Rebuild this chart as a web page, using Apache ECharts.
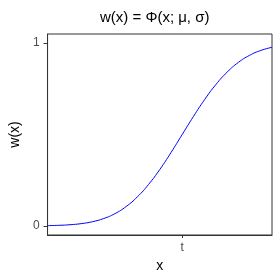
<!DOCTYPE html>
<html>
<head>
<meta charset="utf-8">
<script src="https://cdn.jsdelivr.net/npm/echarts@6/dist/echarts.min.js"></script>
<style>html,body{margin:0;padding:0;background:#fff}#c{width:280px;height:280px}</style>
</head>
<body>
<div id="c"></div>
<script>
// x in units of sigma relative to mu (t = mu)
var xs = [-3, -2.75, -2.5, -2.25, -2, -1.75, -1.5, -1.25, -1, -0.75, -0.5, -0.25, 0, 0.25, 0.5, 0.75, 1, 1.25, 1.5, 1.75, 2];
var ws = [0.0013, 0.0030, 0.0062, 0.0122, 0.0228, 0.0401, 0.0668, 0.1056, 0.1587, 0.2266, 0.3085, 0.4013, 0.5, 0.5987, 0.6915, 0.7734, 0.8413, 0.8944, 0.9332, 0.9599, 0.9772];
var xTickValues = [0];
var xTickLabels = ['t'];
var yTickValues = [0, 1];
var yTickLabels = ['0', '1'];

var pts = xs.map(function (x, i) { return [x, ws[i]]; });
var font = 'Liberation Sans, Arial, sans-serif';
var chart = echarts.init(document.getElementById('c'), null, {renderer: 'canvas'});
chart.setOption({
  animation: false,
  backgroundColor: '#fff',
  title: {
    text: 'w(x) = \u03A6(x; \u03BC, \u03C3)',
    left: 95, top: 5,
    textStyle: {fontFamily: font, fontSize: 15, fontWeight: 'normal', color: '#000'}
  },
  grid: {left: 39, right: 8, top: 34, bottom: 45, show: true, borderColor: '#333', borderWidth: 1, backgroundColor: '#fff'},
  xAxis: {
    type: 'value', min: -3, max: 2,
    name: 'x', nameLocation: 'middle', nameGap: 22,
    nameTextStyle: {fontFamily: font, fontSize: 14, color: '#000'},
    axisLine: {show: true, onZero: false, lineStyle: {color: '#333'}},
    splitLine: {show: false},
    axisTick: {show: true, length: 3, customValues: xTickValues, lineStyle: {color: '#333'}},
    axisLabel: {
      customValues: xTickValues, margin: 7,
      fontFamily: font, fontSize: 12, color: '#4d4d4d',
      formatter: function (v) { var i = xTickValues.indexOf(v); return i >= 0 ? xTickLabels[i] : ''; }
    }
  },
  yAxis: {
    type: 'value', min: -0.05, max: 1.05,
    name: 'w(x)', nameLocation: 'middle', nameGap: 18,
    nameTextStyle: {fontFamily: font, fontSize: 14, color: '#000'},
    axisLine: {show: true, onZero: false, lineStyle: {color: '#333'}},
    splitLine: {show: false},
    axisTick: {show: true, length: 4, customValues: yTickValues, lineStyle: {color: '#333'}},
    axisLabel: {
      customValues: yTickValues, margin: 8,
      fontFamily: font, fontSize: 12, color: '#4d4d4d',
      formatter: function (v) { var i = yTickValues.indexOf(v); return i >= 0 ? yTickLabels[i] : ''; }
    }
  },
  series: [{
    type: 'line', data: pts, smooth: true, showSymbol: false,
    lineStyle: {color: '#0000ff', width: 1}
  }]
});
</script>
</body>
</html>
